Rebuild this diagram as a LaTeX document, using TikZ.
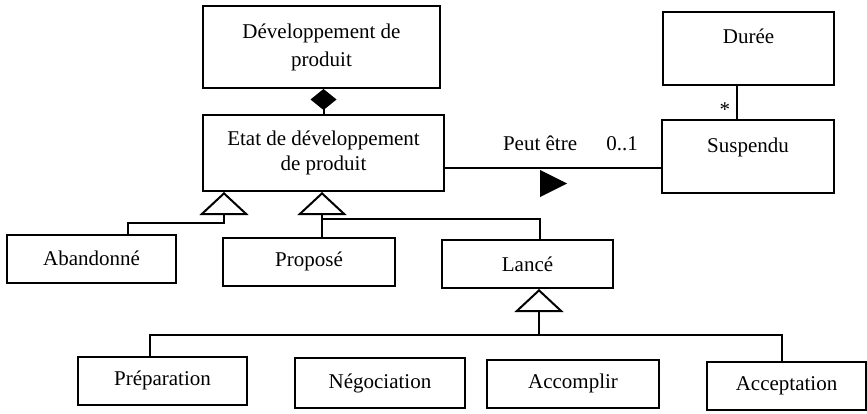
\documentclass[tikz,border=0pt]{standalone}
\usepackage{fontspec}
\setmainfont{Liberation Serif}
\usepackage{tikz}
\usetikzlibrary{arrows.meta,positioning,calc}
\tikzset{
  cls/.style={draw,line width=1pt,align=center,inner sep=2pt,
    minimum width=#1,minimum height=24pt,font=\fontsize{10.5}{12.5}\selectfont},
  cls/.default=85.5pt,
  topcls/.style={cls=#1,minimum height=36.5pt,text height=8pt,text depth=12.5pt},
  topcls/.default=85.5pt,
  link/.style={line width=1pt},
  gen/.style={link,-{Triangle[open,length=11.5pt,width=24.5pt,fill=white]}},
  comp/.style={link,{Diamond[length=10.5pt,width=13pt]}-},
  lbl/.style={font=\fontsize{10.5}{12.5}\selectfont,inner sep=2pt},
}

\begin{document}
\begin{tikzpicture}[x=0.5pt,y=0.5pt]
    \useasboundingbox (0,0) rectangle (867,413);
    % classes
    \node[cls=118.5pt,minimum height=41pt] (dev) at (321.5,366) {Développement de\\[1.5pt]produit};
    \node[cls=120.5pt,minimum height=38pt] (etat) at (323.5,260) {Etat de développement\\de produit};
    \node[topcls] (duree) at (748.5,364.5) {Durée};
    \node[topcls=86pt] (susp) at (748,256.5) {Suspendu};
    \node[cls=84.5pt] (aband) at (91.5,154.5) {Abandonné};
    \node[cls=86pt] (propose) at (309,151.5) {Proposé};
    \node[cls] (lance) at (527.5,149) {Lancé};
    \node[cls=84.5pt] (prep) at (162.5,32.5) {Préparation};
    \node[cls=85pt,minimum height=25pt] (nego) at (380,30) {Négociation};
    \node[cls=86pt] (accomp) at (573,29.5) {Accomplir};
    \node[cls=79.5pt] (accept) at (786.5,27.5) {Acceptation};

    % composition
    \draw[comp] (dev.south -| etat.north) -- (etat.north);

    % association Etat -- Suspendu
    \draw[link] ($(etat.east)+(0,-15)$) coordinate (a1) -- (a1 -| susp.west)
      node[lbl,pos=0.44,above=6pt] (peut) {Peut être}
      node[lbl,pos=0.82,above=6pt] (mult) {0..1};
    \fill ($(a1)+(95,-2)$) -- ++(0,-27) -- ++(27,13.5) -- cycle;

    % Duree -- Suspendu
    \draw[link] ($(duree.south)+(-11.5,0)$) -- ($(susp.north)+(-11,0)$)
      node[lbl,pos=0.73,left=1pt] (star) {*};

    % generalisations of Etat
    \draw[gen] ($(aband.north)+(36.5,0)$) -- ++(0,11) -| ($(etat.south)+(-99.5,0)$);
    \draw[gen] ($(propose.north)+(13,0)$) -- ($(etat.south)+(-1.5,0)$);
    \draw[link] ($(lance.north)+(12.5,0)$) -- ++(0,20) -| ($(propose.north)+(13,0)$);

    % generalisations of Lance
    \coordinate (bar) at ($(lance.south)+(11.5,-46)$);
    \draw[gen] (bar) -- ($(lance.south)+(11.5,0)$);
    \draw[link] ($(prep.north)+(-12.5,0)$) |- (bar) -| ($(accept.north)+(-4.5,0)$);
    \draw[link] ($(nego.north)+(-12,0)$) -- ($(nego.north)+(-12,0)$ |- bar);
    \draw[link] ($(accomp.north)+(-11,0)$) -- ($(accomp.north)+(-11,0)$ |- bar);
  \end{tikzpicture}
\end{document}
